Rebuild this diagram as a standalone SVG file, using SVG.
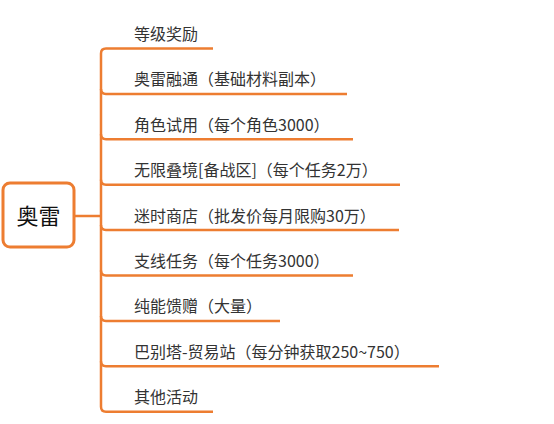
<svg xmlns="http://www.w3.org/2000/svg" width="554" height="424" viewBox="0 0 554 424">
<style>
.ln{fill:none;stroke:#ED7D31;stroke-width:2.5;stroke-linecap:butt}
.t{font-family:"Microsoft YaHei","Noto Sans CJK SC",sans-serif;font-size:16px;fill:#333}
.rt{font-family:"Microsoft YaHei","Noto Sans CJK SC",sans-serif;font-size:22px;fill:#111;text-anchor:middle}
</style>
<rect width="554" height="424" fill="#fff"/>
<g id="connectors">
<path class="ln" d="M75,216 H101"/>
<path class="ln" d="M213,48.5 H106 Q101,48.5 101,53.5 V406.7 Q101,411.7 106,411.7 H213"/>
<path class="ln" d="M101,88.9 Q101,93.9 106,93.9 H347"/>
<path class="ln" d="M101,134.3 Q101,139.3 106,139.3 H353"/>
<path class="ln" d="M101,179.7 Q101,184.7 106,184.7 H400"/>
<path class="ln" d="M101,225.1 Q101,230.1 106,230.1 H399"/>
<path class="ln" d="M101,270.5 Q101,275.5 106,275.5 H353"/>
<path class="ln" d="M101,315.9 Q101,320.9 106,320.9 H280"/>
<path class="ln" d="M101,361.3 Q101,366.3 106,366.3 H439"/>
</g>
<g id="root">
<rect x="3" y="183" width="71" height="64" rx="7" fill="#fff" stroke="#ED7D31" stroke-width="3"/>
<text class="rt" x="38.5" y="223.5">奥雷</text>
</g>
<g id="n1"><text class="t" x="134" y="40">等级奖励</text></g>
<g id="n2"><text class="t" x="134" y="85.4">奥雷融通（基础材料副本）</text></g>
<g id="n3"><text class="t" x="134" y="130.8">角色试用（每个角色3000）</text></g>
<g id="n4"><text class="t" x="134" y="176.2">无限叠境[备战区]（每个任务2万）</text></g>
<g id="n5"><text class="t" x="134" y="221.6">迷时商店（批发价每月限购30万）</text></g>
<g id="n6"><text class="t" x="134" y="267">支线任务（每个任务3000）</text></g>
<g id="n7"><text class="t" x="134" y="312.4">纯能馈赠（大量）</text></g>
<g id="n8"><text class="t" x="134" y="357.8">巴别塔-贸易站（每分钟获取250~750）</text></g>
<g id="n9"><text class="t" x="134" y="403.2">其他活动</text></g>
</svg>
